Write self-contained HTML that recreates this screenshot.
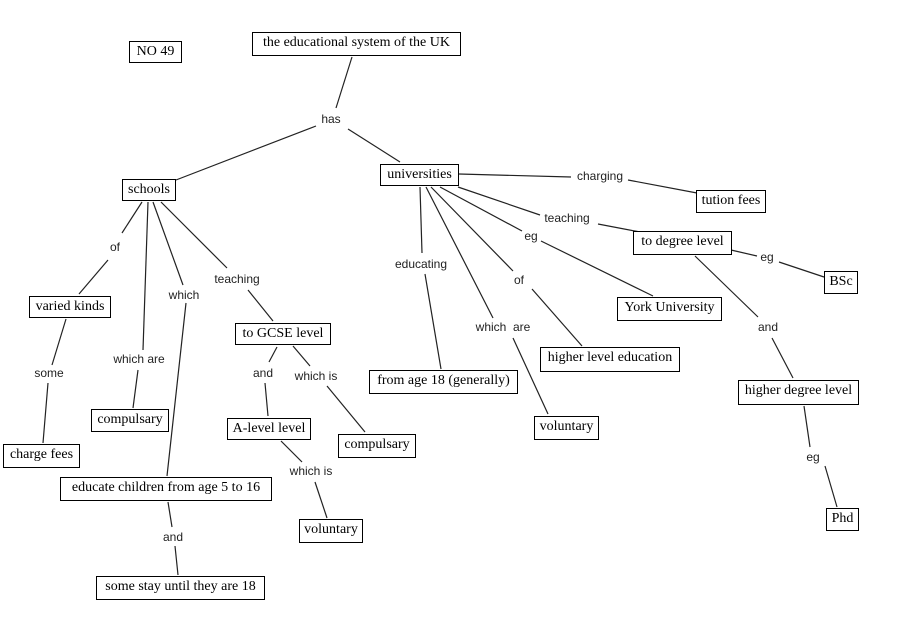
<!DOCTYPE html>
<html><head><style>
body{margin:0;width:904px;height:640px;background:#fff;position:relative;overflow:hidden}
.b{position:absolute;border:1px solid #000;box-sizing:border-box;font-family:"Liberation Serif",serif;font-size:14px;line-height:20px;white-space:nowrap;text-align:center;background:#fff;color:#000}
.l{position:absolute;font-family:"Liberation Sans",sans-serif;font-size:12px;color:#222;white-space:nowrap;transform:translate(-50%,-50%)}
svg{position:absolute;left:0;top:0}
</style></head><body>
<svg width="904" height="640" stroke="#222" stroke-width="1.2">
<line x1="352" y1="57" x2="336" y2="108"/><line x1="176" y1="180" x2="316" y2="126"/><line x1="348" y1="129" x2="400" y2="162"/>
<line x1="142" y1="202" x2="122" y2="233"/><line x1="108" y1="260" x2="79" y2="294"/>
<line x1="153" y1="202" x2="183" y2="285"/><line x1="186" y1="303" x2="167" y2="476"/>
<line x1="148" y1="202" x2="143" y2="350"/><line x1="138" y1="370" x2="133" y2="408"/>
<line x1="161" y1="202" x2="227" y2="268"/><line x1="248" y1="290" x2="273" y2="321"/>
<line x1="66" y1="319" x2="52" y2="365"/><line x1="48" y1="383" x2="43" y2="443"/>
<line x1="277" y1="347" x2="269" y2="362"/><line x1="265" y1="383" x2="268" y2="416"/>
<line x1="293" y1="346" x2="310" y2="366"/><line x1="327" y1="386" x2="365" y2="432"/>
<line x1="281" y1="441" x2="302" y2="462"/><line x1="315" y1="482" x2="327" y2="518"/>
<line x1="168" y1="502" x2="172" y2="527"/><line x1="175" y1="546" x2="178" y2="575"/>
<line x1="420" y1="187" x2="422" y2="253"/><line x1="425" y1="274" x2="441" y2="369"/>
<line x1="426" y1="187" x2="493" y2="318"/><line x1="513" y1="338" x2="548" y2="414"/>
<line x1="431" y1="187" x2="513" y2="271"/><line x1="532" y1="289" x2="582" y2="346"/>
<line x1="440" y1="187" x2="522" y2="231"/><line x1="541" y1="241" x2="653" y2="296"/>
<line x1="458" y1="187" x2="540" y2="215"/><line x1="598" y1="224" x2="640" y2="232"/>
<line x1="459" y1="174" x2="571" y2="177"/><line x1="628" y1="180" x2="697" y2="193"/>
<line x1="731" y1="250" x2="757" y2="256"/><line x1="779" y1="262" x2="824" y2="277"/>
<line x1="695" y1="256" x2="758" y2="317"/><line x1="772" y1="338" x2="793" y2="378"/>
<line x1="804" y1="406" x2="810" y2="447"/><line x1="825" y1="466" x2="837" y2="507"/>
</svg>
<div class="b" style="left:129px;top:41px;width:53px;height:22px">NO 49</div>
<div class="b" style="left:252px;top:32px;width:209px;height:24px">the educational system of the UK</div>
<div class="b" style="left:122px;top:179px;width:54px;height:22px">schools</div>
<div class="b" style="left:380px;top:164px;width:79px;height:22px">universities</div>
<div class="b" style="left:29px;top:296px;width:82px;height:22px">varied kinds</div>
<div class="b" style="left:235px;top:323px;width:96px;height:22px">to GCSE level</div>
<div class="b" style="left:91px;top:409px;width:78px;height:23px">compulsary</div>
<div class="b" style="left:3px;top:444px;width:77px;height:24px">charge fees</div>
<div class="b" style="left:227px;top:418px;width:84px;height:22px">A-level level</div>
<div class="b" style="left:338px;top:434px;width:78px;height:24px">compulsary</div>
<div class="b" style="left:60px;top:477px;width:212px;height:24px">educate children from age 5 to 16</div>
<div class="b" style="left:299px;top:519px;width:64px;height:24px">voluntary</div>
<div class="b" style="left:96px;top:576px;width:169px;height:24px">some stay until they are 18</div>
<div class="b" style="left:369px;top:370px;width:149px;height:24px">from age 18 (generally)</div>
<div class="b" style="left:534px;top:416px;width:65px;height:24px">voluntary</div>
<div class="b" style="left:540px;top:347px;width:140px;height:25px">higher level education</div>
<div class="b" style="left:617px;top:297px;width:105px;height:24px">York University</div>
<div class="b" style="left:633px;top:231px;width:99px;height:24px">to degree level</div>
<div class="b" style="left:696px;top:190px;width:70px;height:23px">tution fees</div>
<div class="b" style="left:824px;top:271px;width:34px;height:23px">BSc</div>
<div class="b" style="left:738px;top:380px;width:121px;height:25px">higher degree level</div>
<div class="b" style="left:826px;top:508px;width:33px;height:23px">Phd</div>
<div class="l" style="left:331px;top:119px">has</div>
<div class="l" style="left:115px;top:247px">of</div>
<div class="l" style="left:184px;top:295px">which</div>
<div class="l" style="left:237px;top:279px">teaching</div>
<div class="l" style="left:139px;top:359px">which are</div>
<div class="l" style="left:49px;top:373px">some</div>
<div class="l" style="left:263px;top:373px">and</div>
<div class="l" style="left:316px;top:376px">which is</div>
<div class="l" style="left:311px;top:471px">which is</div>
<div class="l" style="left:173px;top:537px">and</div>
<div class="l" style="left:421px;top:264px">educating</div>
<div class="l" style="left:503px;top:327px">which &nbsp;are</div>
<div class="l" style="left:519px;top:280px">of</div>
<div class="l" style="left:531px;top:236px">eg</div>
<div class="l" style="left:567px;top:218px">teaching</div>
<div class="l" style="left:600px;top:176px">charging</div>
<div class="l" style="left:767px;top:257px">eg</div>
<div class="l" style="left:768px;top:327px">and</div>
<div class="l" style="left:813px;top:457px">eg</div>
</body></html>
